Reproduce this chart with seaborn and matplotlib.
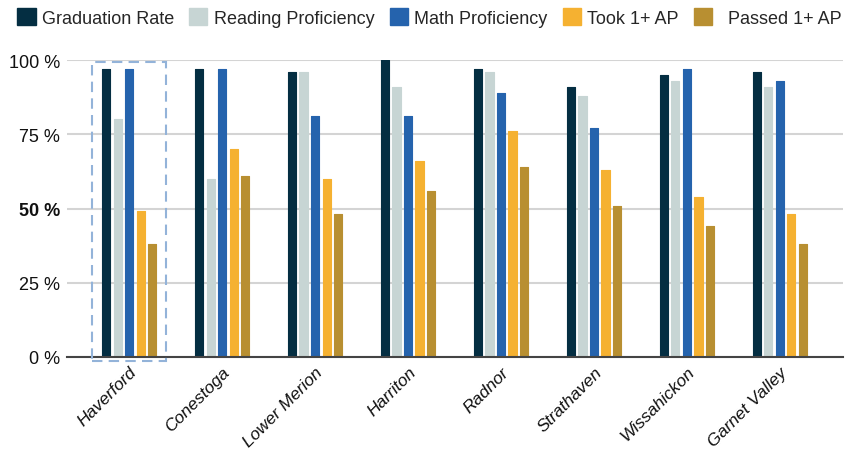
import pandas as pd
import matplotlib.pyplot as plt
import seaborn as sns
from matplotlib.patches import Rectangle, Patch

# 学校与指标数据
schools = ['Haverford', 'Conestoga', 'Lower Merion', 'Harriton', 'Radnor',
           'Strathaven', 'Wissahickon', 'Garnet Valley']
metrics = ['Graduation Rate', 'Reading Proficiency', 'Math Proficiency',
           'Took 1+ AP', 'Passed 1+ AP']
graduation = [97, 97, 96, 100, 97, 91, 95, 96]
reading = [80, 60, 96, 91, 96, 88, 93, 91]
math = [97, 97, 81, 81, 89, 77, 97, 93]
took_ap = [49, 70, 60, 66, 76, 63, 54, 48]
passed_ap = [38, 61, 48, 56, 64, 51, 44, 38]
colors = ['#042e42', '#c7d5d4', '#2563ad', '#f5b131', '#b88f31']
y_ticks = [0, 25, 50, 75, 100]

sns.set_theme(style='white')
plt.rcParams['font.family'] = ['Liberation Sans', 'DejaVu Sans']

rows = []
for vals, m in zip([graduation, reading, math, took_ap, passed_ap], metrics):
    for s, v in zip(schools, vals):
        rows.append({'school': s, 'metric': m, 'value': v})
df = pd.DataFrame(rows)

fig = plt.figure(figsize=(8.56, 4.56), dpi=100)
ax = fig.add_axes([67 / 856, 98 / 456, 776 / 856, 297 / 456])

sns.barplot(data=df, x='school', y='value', hue='metric', order=schools,
            hue_order=metrics, palette=colors, saturation=1, width=0.62,
            gap=0.28, legend=False, ax=ax)

# 圆角效果
for p in ax.patches:
    p.set_edgecolor(p.get_facecolor())
    p.set_linewidth(0.8)
    p.set_joinstyle('round')

ax.set_ylim(0, 100)
ax.set_xlim(-0.67, 7.68)
ax.set_yticks(y_ticks)
ax.set_yticklabels([f'{t} %' for t in y_ticks], fontsize=13, color='#111111')
for lab in ax.get_yticklabels():
    if lab.get_text() == '50 %':
        lab.set_fontweight('bold')
ax.tick_params(axis='y', length=0, pad=5)
ax.tick_params(axis='x', length=0, pad=5)
ax.set_xticks(range(len(schools)))
ax.set_xticklabels(schools, rotation=45, ha='right', rotation_mode='anchor',
                   fontsize=12.5, style='italic', color='#111111')
ax.set_xlabel('')
ax.set_ylabel('')
ax.yaxis.grid(True, color='#d4d4d4', linewidth=1.5)
ax.set_axisbelow(True)
for side in ['left', 'right', 'top']:
    ax.spines[side].set_visible(False)
ax.spines['bottom'].set_color('#444444')
ax.spines['bottom'].set_linewidth(1.5)

# Haverford 虚线框
ax.add_patch(Rectangle((-0.40, -1.5), 0.79, 100.8, fill=False,
                       edgecolor='#93b3d9', linestyle=(0, (5, 3)),
                       linewidth=1.5, clip_on=False, zorder=5))

labels = ['Graduation Rate', 'Reading Proficiency', 'Math Proficiency',
          'Took 1+ AP', '  Passed 1+ AP']
handles = [Patch(facecolor=c, edgecolor=c) for c in colors]
fig.legend(handles, labels, loc='center', bbox_to_anchor=(0.502, 0.96),
           ncol=5, frameon=False, fontsize=13, handlelength=1.0,
           handleheight=1.1, handletextpad=0.35, columnspacing=0.85)

plt.savefig('out.png', dpi=100)
